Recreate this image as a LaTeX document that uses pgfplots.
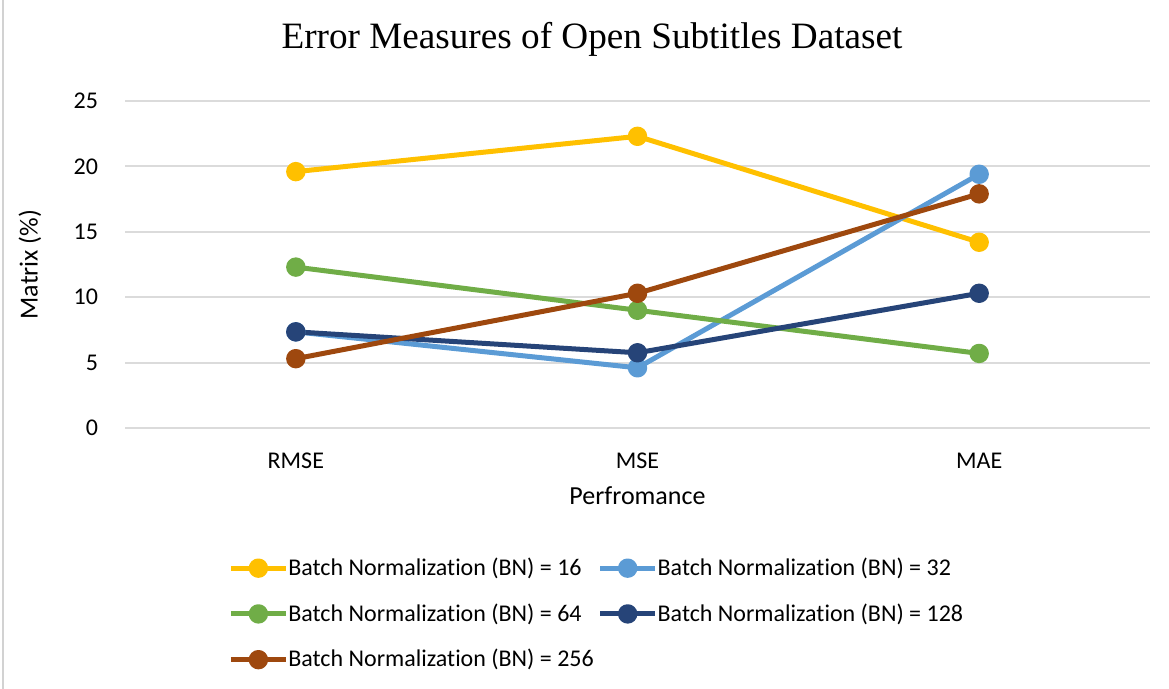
\documentclass[border=0pt]{standalone}
\usepackage{fontspec}
\setmainfont[Ligatures={NoCommon}]{Carlito}
\newfontfamily\timesf{Liberation Serif}
\usepackage{pgfplots}
\pgfplotsset{compat=1.18}
\definecolor{cY}{HTML}{FFC000}
\definecolor{cLB}{HTML}{5B9BD5}
\definecolor{cG}{HTML}{70AD47}
\definecolor{cDB}{HTML}{264478}
\definecolor{cBr}{HTML}{9E480E}
\begin{document}
\begin{tikzpicture}
\path[use as bounding box] (0,0) rectangle (584.5pt,344.5pt);
\draw[gray!35, line width=1pt] (1.5pt,0) -- (1.5pt,344.5pt);
\begin{axis}[
  at={(62.5pt,130.5pt)}, anchor=south west,
  scale only axis, width=512.5pt, height=163.5pt,
  xmin=-0.5, xmax=2.5, ymin=0, ymax=25,
  xtick={0,1,2}, xticklabels={RMSE,MSE,MAE},
  ytick={0,5,...,25},
  ymajorgrids, grid style={gray!28, line width=1pt},
  axis line style={draw=none}, major tick length=0pt,
  tick label style={font=\fontsize{12}{14}\selectfont},
  /pgf/number format/assume math mode=true,
  xticklabel style={anchor=center, yshift=-16.5pt},
  yticklabel style={anchor=east, xshift=-10pt},
  xlabel={Perfromance}, ylabel={Matrix (\%)},
  every axis x label/.style={at={(axis description cs:0.5,-0.208)}, anchor=center, font=\fontsize{13}{15}\selectfont},
  every axis y label/.style={at={(axis description cs:-0.0927,0.5)}, anchor=center, rotate=90, font=\fontsize{13}{15}\selectfont},
  title={\timesf\fontsize{18.6}{22}\selectfont Error Measures of Open Subtitles Dataset},
  title style={at={(axis description cs:0.4556,1.153)}, anchor=center},
  every axis plot/.append style={line width=2.5pt, line join=round, mark=*, mark size=3.6pt, mark options={solid}},
  legend image code/.code={\draw[mark repeat=2,mark phase=2] plot coordinates {(0pt,0pt) (13.75pt,0pt) (27.5pt,0pt)};},
  legend columns=2,
  legend cell align=left,
  legend style={draw=none, fill=none, inner sep=0pt, row sep=12.6pt,
    at={(axis description cs:0.1005,-0.396)}, anchor=north west,
    font=\fontsize{12}{14}\selectfont,
    nodes={inner sep=0pt},
    /tikz/every even column/.append style={column sep=8pt}},
]
\addplot[cY] coordinates {(0,19.6) (1,22.3) (2,14.2)};
\addlegendentry{Batch Normalization (BN) = 16}
\addplot[cLB] coordinates {(0,7.35) (1,4.6) (2,19.4)};
\addlegendentry{Batch Normalization (BN) = 32}
\addplot[cG] coordinates {(0,12.3) (1,9.0) (2,5.7)};
\addlegendentry{Batch Normalization (BN) = 64}
\addplot[cDB] coordinates {(0,7.35) (1,5.75) (2,10.3)};
\addlegendentry{Batch Normalization (BN) = 128}
\addplot[cBr] coordinates {(0,5.3) (1,10.3) (2,17.9)};
\addlegendentry{\rlap{Batch Normalization (BN) = 256}\phantom{Batch Normalization (BN) = 16}}
\end{axis}
\end{tikzpicture}
\end{document}
